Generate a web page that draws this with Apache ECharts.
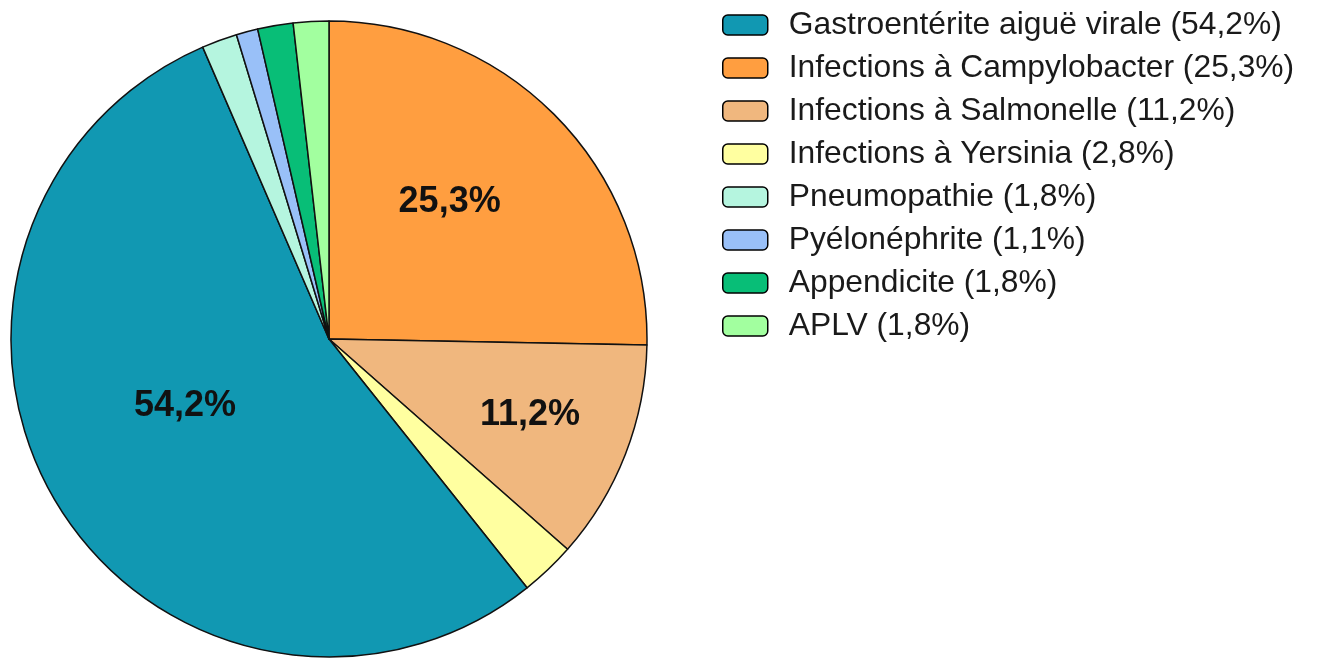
<!DOCTYPE html>
<html><head><meta charset="utf-8">
<script src="https://cdn.jsdelivr.net/npm/echarts@6/dist/echarts.min.js"></script>
<style>html,body{margin:0;padding:0;background:#fff}#c{width:1318px;height:658px}</style>
</head><body><div id="c"></div>
<script>
// Slices in drawing order (clockwise from 12 o'clock)
const categories = ['Infections à Campylobacter','Infections à Salmonelle','Infections à Yersinia','Gastroentérite aiguë virale','Pneumopathie','Pyélonéphrite','Appendicite','APLV'];
const values = [25.3, 11.2, 2.8, 54.2, 1.8, 1.1, 1.8, 1.8];
const colors = ['#FF9E40','#F0B77E','#FFFFA0','#1198B2','#B5F5DF','#99C0F8','#08BE77','#A2FF9F'];
const labelled = [true, true, false, true, false, false, false, false];
const legendOrder = ['Gastroentérite aiguë virale','Infections à Campylobacter','Infections à Salmonelle','Infections à Yersinia','Pneumopathie','Pyélonéphrite','Appendicite','APLV'];
const labelOffsets = [[5,-23],[50,17],[0,0],[-5,-16],[0,0],[0,0],[0,0],[0,0]];

const fmt = v => v.toFixed(1).replace('.', ',') + '%';
const valueOf = {};
categories.forEach((c,i)=>valueOf[c]=values[i]);

const chart = echarts.init(document.getElementById('c'));
chart.setOption({
  animation:false,
  color: colors,
  legend:{
    orient:'vertical', left:717, top:4,
    data: legendOrder,
    icon:'roundRect',
    itemWidth:45, itemHeight:20, itemGap:11,
    itemStyle:{borderColor:'#000', borderWidth:1.5},
    formatter: n => n + ' (' + fmt(valueOf[n]) + ')',
    textStyle:{fontFamily:'Liberation Sans, Arial, sans-serif', fontSize:31.8, color:'#1a1a1a', padding:[0,0,0,16]}
  },
  series:[{
    type:'pie',
    center:[329,339], radius:318,
    startAngle:90, clockwise:true,
    avoidLabelOverlap:false,
    itemStyle:{borderColor:'#111', borderWidth:1.5},
    labelLine:{show:false},
    emphasis:{disabled:true},
    data: categories.map((c,i)=>({
      name:c, value:values[i],
      itemStyle:{color:colors[i]},
      label:{show:labelled[i], position:'inner', offset:labelOffsets[i],
        formatter: p => fmt(p.value),
        fontFamily:'Liberation Sans, Arial, sans-serif', fontWeight:'bold', fontSize:36, color:'#111'}
    }))
  }]
});
</script></body></html>
